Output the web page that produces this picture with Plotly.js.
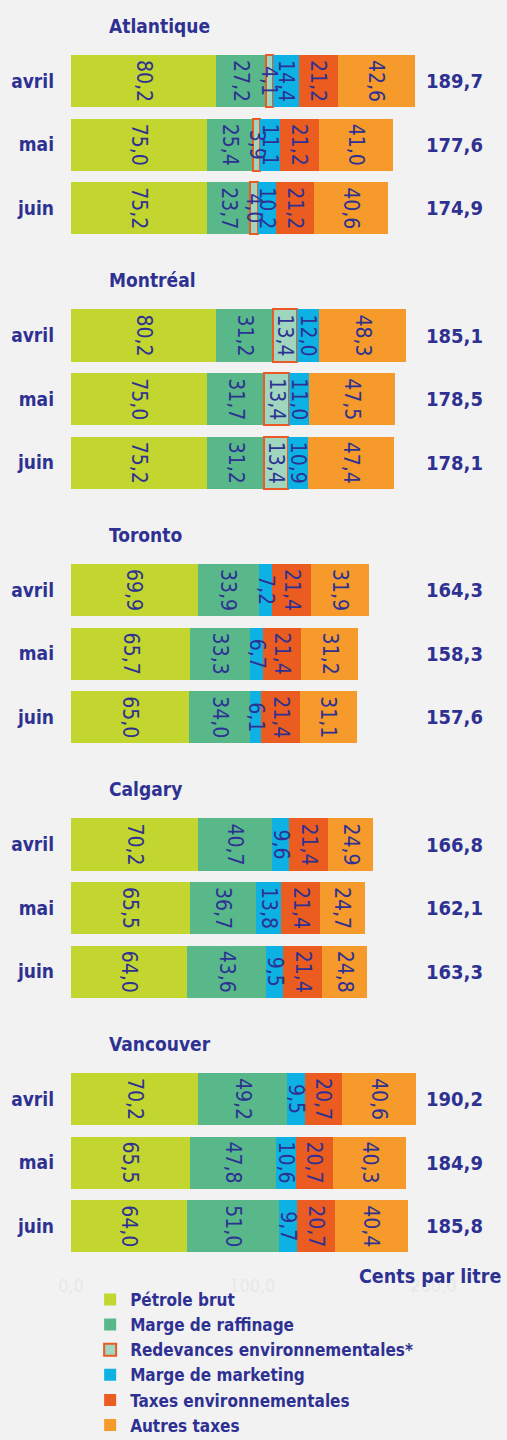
<!DOCTYPE html>
<html>
<head>
<meta charset="utf-8">
<script src="https://cdn.plot.ly/plotly-3.0.1.min.js"></script>
<style>
html,body{margin:0;padding:0;background:#f2f2f2;}
#chart{width:507px;height:1440px;}
</style>
</head>
<body>
<div id="chart"></div>
<script>
const groups = ['Atlantique', 'Montréal', 'Toronto', 'Calgary', 'Vancouver'];
const months = ['avril', 'mai', 'juin'];
const seriesNames = ['Pétrole brut', 'Marge de raffinage', 'Redevances environnementales*', 'Marge de marketing', 'Taxes environnementales', 'Autres taxes'];

// values per bar: group order Atlantique, Montréal, Toronto, Calgary, Vancouver; months avril, mai, juin
const petrole     = [80.2, 75.0, 75.2,  80.2, 75.0, 75.2,  69.9, 65.7, 65.0,  70.2, 65.5, 64.0,  70.2, 65.5, 64.0];
const raffinage   = [27.2, 25.4, 23.7,  31.2, 31.7, 31.2,  33.9, 33.3, 34.0,  40.7, 36.7, 43.6,  49.2, 47.8, 51.0];
const redevances  = [4.1, 3.9, 4.0,     13.4, 13.4, 13.4,  null, null, null,  null, null, null,  null, null, null];
const marketing   = [14.4, 11.1, 10.2,  12.0, 11.0, 10.9,  7.2, 6.7, 6.1,     9.6, 13.8, 9.5,    9.5, 10.6, 9.7];
const taxesEnv    = [21.2, 21.2, 21.2,  null, null, null,  21.4, 21.4, 21.4,  21.4, 21.4, 21.4,  20.7, 20.7, 20.7];
const autresTaxes = [42.6, 41.0, 40.6,  48.3, 47.5, 47.4,  31.9, 31.2, 31.1,  24.9, 24.7, 24.8,  40.6, 40.3, 40.4];
const totals      = [189.7, 177.6, 174.9, 185.1, 178.5, 178.1, 164.3, 158.3, 157.6, 166.8, 162.1, 163.3, 190.2, 184.9, 185.8];
const xTicks = [0, 100, 200];

const colors = ['#c3d52f', '#58b88a', '#a0d6bf', '#0db1e3', '#eb5c21', '#f59a2b'];
const navy = '#2e3192';
const FONT = "'DejaVu Sans Condensed', 'DejaVu Sans', sans-serif";

// vertical positions: each group takes 4 slots (title + 3 months)
const yPos = [];
const yTickText = [];
groups.forEach((g, gi) => months.forEach((m, mi) => { yPos.push(gi * 4 + 1 + mi); yTickText.push(m); }));

const series = [petrole, raffinage, redevances, marketing, taxesEnv, autresTaxes];

// coloured bars (no text)
const barTraces = series.map((vals, si) => ({
  type: 'bar',
  orientation: 'h',
  name: seriesNames[si],
  legendgroup: 'g' + si,
  x: vals,
  y: yPos,
  width: 0.82,
  marker: {
    color: colors[si],
    line: si === 2 ? {color: '#e95a24', width: 2} : {width: 0}
  },
  hoverinfo: 'name+x'
}));

// same stacks on an overlaid axis, transparent, carrying the value labels on top of every bar
const textTraces = series.map((vals, si) => ({
  type: 'bar',
  orientation: 'h',
  name: seriesNames[si],
  showlegend: false,
  xaxis: 'x2',
  x: vals,
  y: yPos,
  width: 0.82,
  marker: {color: 'rgba(0,0,0,0)', line: {width: 0}},
  texttemplate: '%{x:.1f}',
  textposition: 'inside',
  insidetextanchor: 'middle',
  textangle: 90,
  constraintext: 'none',
  cliponaxis: false,
  insidetextfont: {family: FONT, size: 21, color: navy},
  hoverinfo: 'skip'
}));

const annotations = [];
groups.forEach((g, gi) => {
  annotations.push({
    text: g, xref: 'x', yref: 'y', x: 20, y: gi * 4 + 0.13,
    xanchor: 'left', yanchor: 'middle', showarrow: false,
    font: {family: FONT, size: 19, color: navy, weight: 'bold'}
  });
});
totals.forEach((t, i) => {
  annotations.push({
    text: t.toFixed(1).replace('.', ','), xref: 'x', yref: 'y', x: 195, y: yPos[i],
    xanchor: 'left', yanchor: 'middle', showarrow: false,
    font: {family: FONT, size: 20, color: navy, weight: 'bold'}
  });
});
annotations.push({
  text: 'Cents par litre', xref: 'paper', yref: 'paper', x: 1, y: 0,
  xanchor: 'right', yanchor: 'middle', xshift: -3, yshift: -11, showarrow: false,
  font: {family: FONT, size: 19.5, color: navy, weight: 'bold'}
});

const layout = {
  width: 507, height: 1440,
  margin: {l: 71, r: 1, t: 0, b: 175, autoexpand: false},
  paper_bgcolor: '#f2f2f2', plot_bgcolor: '#f2f2f2',
  barmode: 'stack',
  separators: ', ',
  font: {family: FONT, color: navy},
  showlegend: true,
  legend: {
    x: 0.044, xanchor: 'left', y: -0.0134, yanchor: 'top',
    orientation: 'v', traceorder: 'normal', tracegroupgap: 1,
    font: {family: FONT, size: 17, color: navy, weight: 'bold'},
    bgcolor: 'rgba(0,0,0,0)'
  },
  xaxis: {
    range: [0, 240], tickvals: xTicks, tickformat: '.1f',
    showgrid: false, zeroline: false, showline: false, ticks: '',
    tickfont: {family: FONT, size: 18, color: '#e8e8e8'},
    ticklabelstandoff: 8, fixedrange: true
  },
  xaxis2: {
    overlaying: 'x', matches: 'x', range: [0, 240], visible: false, fixedrange: true
  },
  yaxis: {
    range: [19.61, -0.275], tickvals: yPos, ticktext: yTickText,
    showgrid: false, zeroline: false, showline: false, ticks: '',
    tickfont: {family: FONT, size: 19, color: navy, weight: 'bold'},
    ticklabelstandoff: 16, fixedrange: true
  },
  annotations: annotations
};

Plotly.newPlot('chart', barTraces.concat(textTraces), layout, {displayModeBar: false, staticPlot: true});
</script>
</body>
</html>
